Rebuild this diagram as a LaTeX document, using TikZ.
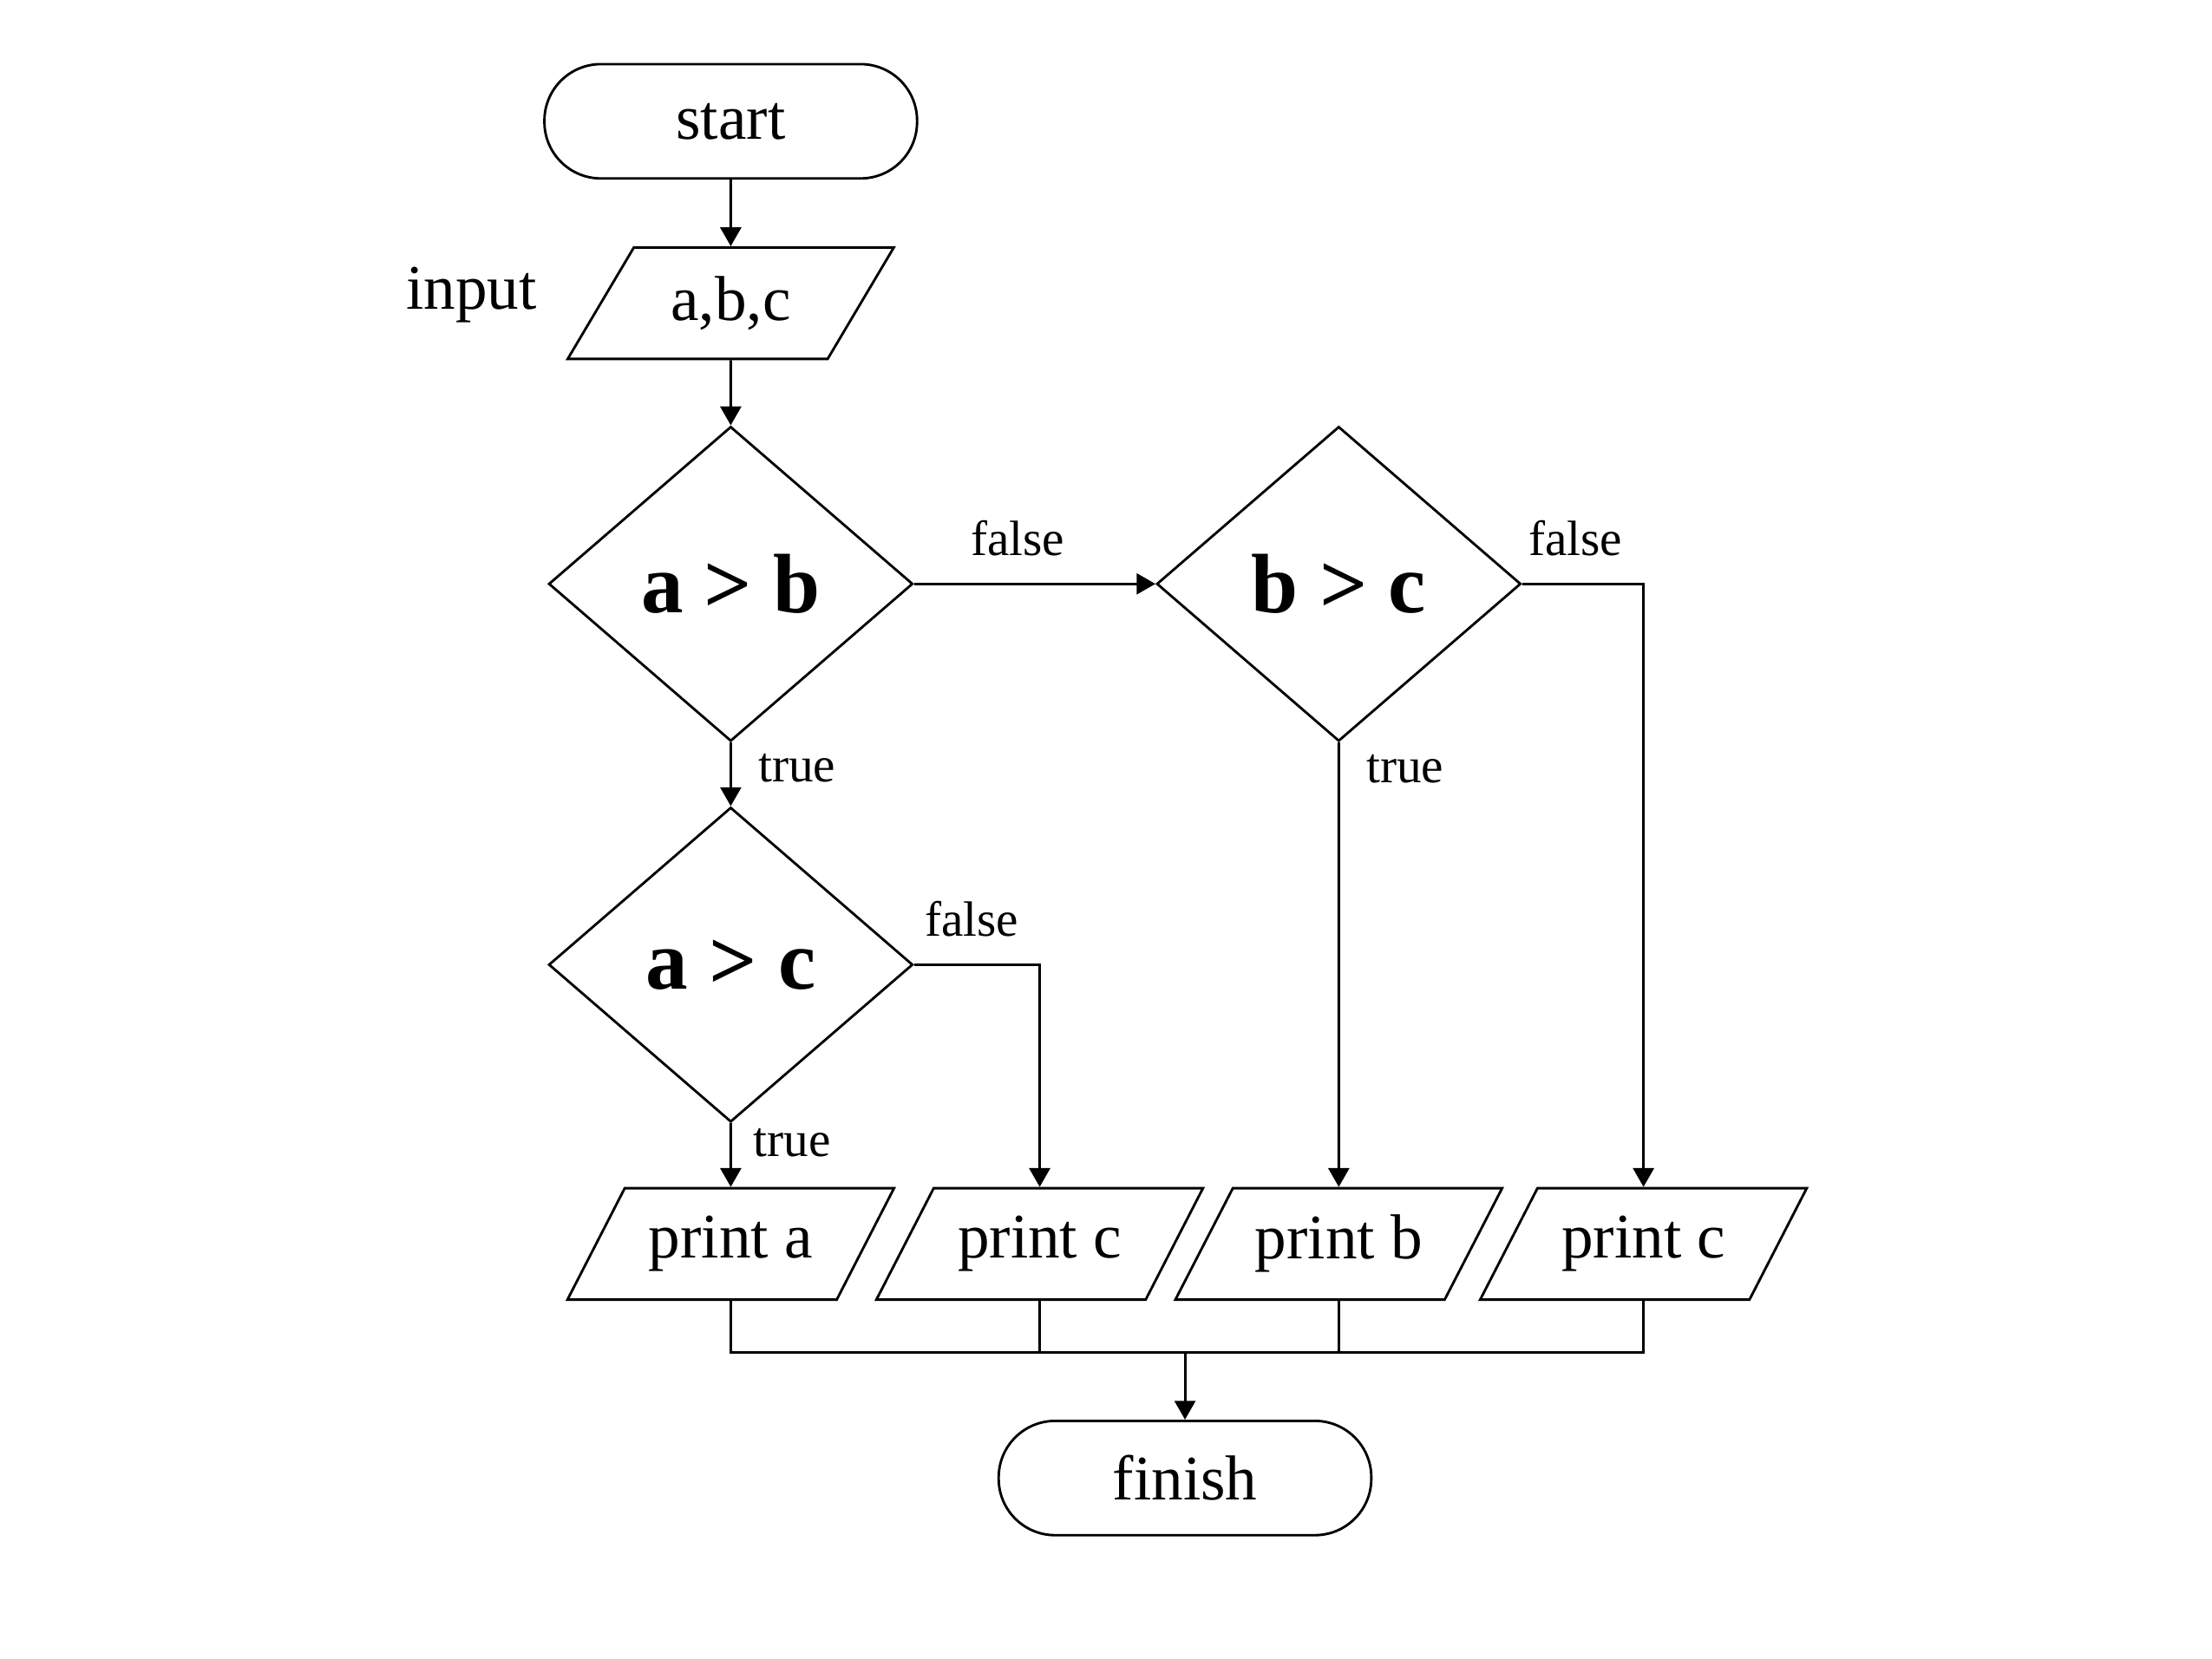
\documentclass[tikz,border=0pt]{standalone}
\usepackage{fontspec}
\setmainfont{Liberation Serif}
\usetikzlibrary{shapes.geometric, arrows.meta}

\begin{document}
\begin{tikzpicture}[x=0.01cm, y=-0.01cm, line width=0.5pt,
		terminal/.style={draw, rectangle, rounded corners=0.4cm, minimum width=2.64cm, minimum height=0.81cm, font=\fontsize{12.8}{15}\selectfont},
		io/.style={draw, trapezium, trapezium left angle=59, trapezium right angle=121, trapezium stretches=true, minimum width=2.32cm, minimum height=0.79cm, font=\fontsize{12.8}{15}\selectfont},
		decision/.style={draw, diamond, minimum width=2.58cm, minimum height=2.23cm, inner sep=0pt, font=\bfseries\fontsize{17}{20}\selectfont},
		lbl/.style={font=\fontsize{10}{12}\selectfont},
		arr/.style={-{Triangle[length=3.8pt, width=4.2pt]}}]
		
		%frame
		\useasboundingbox (0,0) rectangle (1568,1176);
		
		%terminals and input
		\node [terminal] (start) at (518,86) {start};
		\node [io] (inbox) at (518,215) {a,b,c};
		\node [font=\fontsize{12.8}{15}\selectfont, anchor=east] (inlbl) at (393,209) {input};
		\node [terminal] (finish) at (840,1048) {finish};
		
		%decisions
		\node [decision] (ab) at (518,414) {a > b};
		\node [decision] (bc) at (949,414) {b > c};
		\node [decision] (ac) at (518,684) {a > c};
		
		%outputs
		\node [io] (pa) at (518,882) {print a};
		\node [io] (pc1) at (737,882) {print c};
		\node [io] (pb) at (949,882) {print b};
		\node [io] (pc2) at (1165,882) {print c};
		
		%connectors
		\draw [arr] (start.south) -- (inbox.north);
		\draw [arr] (inbox.south) -- (ab.north);
		\draw [arr] (ab.east) -- node [lbl, above=2pt, pos=0.43] (fab) {false} (bc.west);
		\draw [arr] (ab.south) -- node [lbl, right=2pt, pos=0.4] (tab) {true} (ac.north);
		\draw [arr] (bc.east) -| node [lbl, above=2pt, pos=0.22] (fbc) {false} (pc2.north);
		\draw [arr] (bc.south) -- node [lbl, right=2pt, pos=0.06] (tbc) {true} (pb.north);
		\draw [arr] (ac.east) -| node [lbl, above=2pt, pos=0.23] (fac) {false} (pc1.north);
		\draw [arr] (ac.south) -- node [lbl, right=1pt, pos=0.3] (tac) {true} (pa.north);
		
		%joining the outputs
		\coordinate (jn) at (840,959);
		\draw (pa.south) |- (jn) -| (pc2.south);
		\draw (pc1.south) -- (pc1.south |- jn);
		\draw (pb.south) -- (pb.south |- jn);
		\draw [arr] (jn) -- (finish.north);
	\end{tikzpicture}
\end{document}
